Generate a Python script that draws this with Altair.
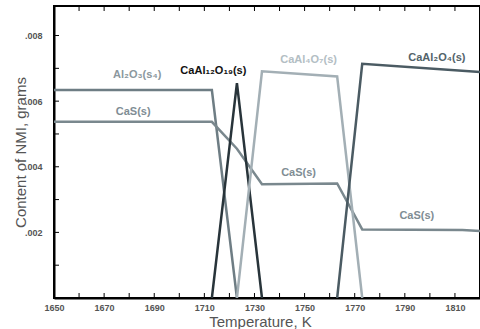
import altair as alt
import pandas as pd

# ---- data: content of non-metallic inclusions vs temperature ----
series = ["Al2O3", "CaS", "CaAl12O19", "CaAl4O7", "CaAl2O4"]

t_al2o3 = [1650, 1713, 1723]
v_al2o3 = [0.00634, 0.00634, 0.0]

t_cas = [1650, 1713, 1723, 1733, 1763, 1773, 1813, 1820]
v_cas = [0.00537, 0.00537, 0.00455, 0.00347, 0.00349, 0.00209, 0.00207, 0.00204]

t_ca12 = [1713, 1723, 1733]
v_ca12 = [0.0, 0.00655, 0.0]

t_ca4 = [1723, 1733, 1763, 1773]
v_ca4 = [0.0, 0.00691, 0.00675, 0.0]

t_ca2 = [1763, 1773, 1820]
v_ca2 = [0.0, 0.00714, 0.00689]

line_colors = ["#6e7d84", "#7a888e", "#28343a", "#a3afb5", "#4b5b63"]

# in-plot labels (data coordinates of label centres)
label_text = ["Al₂O₃(s₄)", "CaS(s)", "CaAl₁₂O₁₉(s)", "CaAl₄O₇(s)", "CaAl₂O₄(s)",
              "CaS(s) ", "CaS(s)  "]
label_t = [1683.2, 1681.6, 1713.6, 1751.6, 1802.8, 1747.6, 1794.8]
label_v = [0.00679, 0.00566, 0.00692, 0.00725, 0.00731, 0.00380, 0.00249]
label_colors = ["#8b989e", "#7f8d94", "#111111", "#b3bec4", "#53636a",
                "#7f8d94", "#7f8d94"]

x_label_ticks = list(range(1650, 1811, 20))
x_minor_ticks = list(range(1660, 1821, 10))
y_label_ticks = [0.002, 0.004, 0.006, 0.008]
y_minor_ticks = [0.001, 0.002, 0.003, 0.004, 0.005, 0.006, 0.007, 0.008]

X_MIN, X_MAX = 1650, 1820
Y_MIN, Y_MAX = 0, 0.0089

# ---- build tables ----
rows = []
for name, ts, vs in zip(series,
                        [t_al2o3, t_cas, t_ca12, t_ca4, t_ca2],
                        [v_al2o3, v_cas, v_ca12, v_ca4, v_ca2]):
    for i, (t, v) in enumerate(zip(ts, vs)):
        rows.append({"series": name, "T": t, "val": v, "idx": i})
lines_df = pd.DataFrame(rows)

labels_df = pd.DataFrame({"text": label_text, "T": label_t, "val": label_v})
xticks_df = pd.DataFrame({"T": x_minor_ticks})
yticks_df = pd.DataFrame({"val": y_minor_ticks})

FONT = "Liberation Sans"
W, H = 426, 292
TICK = 5
TICK_COLOR = "black"
x_scale = alt.Scale(domain=[X_MIN, X_MAX], nice=False, zero=False)
y_scale = alt.Scale(domain=[Y_MIN, Y_MAX], nice=False, zero=True)

x_axis = alt.Axis(orient="bottom", values=x_label_ticks, format="d",
                  ticks=False, grid=False, domain=True,
                  domainColor="black", domainWidth=2,
                  labelFont=FONT, labelFontSize=9, labelColor="#555",
                  labelFontWeight="bold",
                  labelPadding=5, labelFlush=False,
                  title="Temperature, K", titleFont=FONT,
                  titleFontSize=15, titleFontWeight="normal",
                  titleColor="#555", titleX=206, titleY=23,
                  titleBaseline="middle")
y_axis = alt.Axis(orient="left", values=y_label_ticks, format=".3f",
                  labelExpr="slice(datum.label, 1)",
                  ticks=False, grid=False, domain=True,
                  domainColor="black", domainWidth=2,
                  labelFont=FONT, labelFontSize=9, labelColor="#555",
                  labelFontWeight="bold",
                  labelPadding=12,
                  title="Content of NMI, grams", titleFont=FONT,
                  titleFontSize=15, titleFontWeight="normal",
                  titleColor="#555", titleX=-34, titleY=146,
                  titleBaseline="middle")

lines = alt.Chart(lines_df).mark_line(strokeWidth=2.5, clip=True).encode(
    x=alt.X("T:Q", scale=x_scale, axis=x_axis),
    y=alt.Y("val:Q", scale=y_scale, axis=y_axis),
    color=alt.Color("series:N", scale=alt.Scale(domain=series, range=line_colors),
                    legend=None),
    order="idx:Q",
    detail="series:N",
)

labels = alt.Chart(labels_df).mark_text(
    font=FONT, fontSize=11, fontWeight="bold", align="center", baseline="middle"
).encode(
    x=alt.X("T:Q", scale=x_scale, axis=x_axis),
    y=alt.Y("val:Q", scale=y_scale, axis=y_axis),
    text="text:N",
    color=alt.Color("text:N", scale=alt.Scale(domain=label_text, range=label_colors),
                    legend=None),
)

# inward tick marks along the bottom, top and left frame
bottom_ticks = alt.Chart(xticks_df).mark_tick(
    orient="vertical", size=TICK, thickness=1, color=TICK_COLOR, opacity=1,
    yOffset=-TICK / 2,
).encode(
    x=alt.X("T:Q", scale=x_scale, axis=x_axis),
    y=alt.datum(Y_MIN, type="quantitative", scale=y_scale),
)
top_ticks = alt.Chart(xticks_df).mark_tick(
    orient="vertical", size=TICK, thickness=1, color=TICK_COLOR, opacity=1,
    yOffset=TICK / 2,
).encode(
    x=alt.X("T:Q", scale=x_scale, axis=x_axis),
    y=alt.datum(Y_MAX, type="quantitative", scale=y_scale),
)
left_ticks = alt.Chart(yticks_df).mark_tick(
    orient="horizontal", size=TICK, thickness=1, color=TICK_COLOR, opacity=1,
    xOffset=TICK / 2,
).encode(
    y=alt.Y("val:Q", scale=y_scale, axis=y_axis),
    x=alt.datum(X_MIN, type="quantitative", scale=x_scale),
)

chart = alt.layer(lines, labels, bottom_ticks, top_ticks, left_ticks).resolve_scale(
    color="independent"
).properties(
    width=W, height=H,
    autosize=alt.AutoSizeParams(type="none"),
    padding={"left": 54, "top": 6, "right": 0, "bottom": 31},
    background="white",
).configure_view(
    stroke="black", strokeWidth=2
)

chart.save("out.html", embed_options={"renderer": "svg", "actions": False})
